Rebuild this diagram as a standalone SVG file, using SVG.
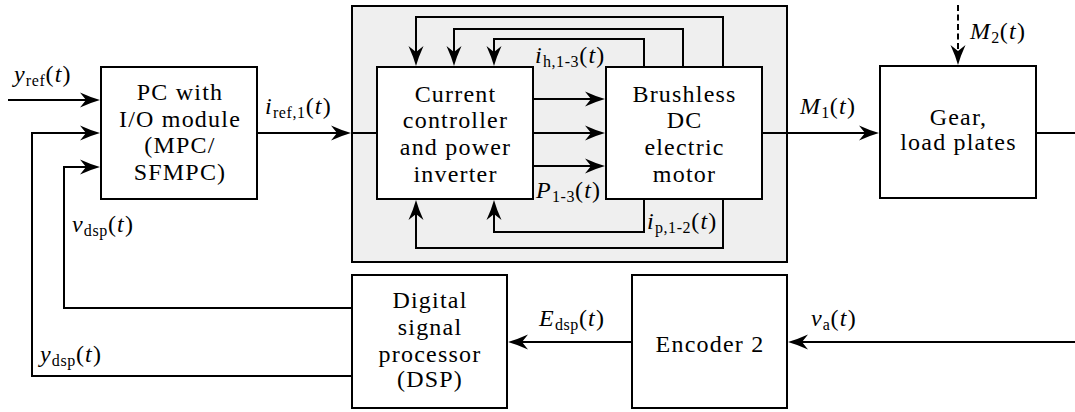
<svg xmlns="http://www.w3.org/2000/svg" width="1075" height="412" viewBox="0 0 1075 412" font-family="Liberation Serif, Times New Roman, serif">
<style>
.box{fill:#fff;stroke:#000;stroke-width:2}
.ln{fill:none;stroke:#000;stroke-width:2}
.a{marker-end:url(#ah)}
.dash{stroke-dasharray:6 3.5}
text{font-size:24px;fill:#000;letter-spacing:1.2px}
.c{text-anchor:middle}
.i{font-style:italic}
.s{font-size:16px;letter-spacing:0.6px}
</style>
<defs>
<marker id="ah" viewBox="-17 -8 22 16" refX="0" refY="0" markerWidth="22" markerHeight="16" markerUnits="userSpaceOnUse" orient="auto">
<path d="M4,0 Q-5,-2.5 -16,-7.5 L-10,0 L-16,7.5 Q-5,2.5 4,0 Z" fill="#000"/>
</marker>
</defs>
<rect id="group-bg" x="352" y="6" width="435" height="256" fill="#efefef" stroke="#000" stroke-width="2"/>
<g id="connectors">
<path class="ln a" d="M8,100 H96"/>
<path class="ln a" d="M352,376 H32 V133 H96"/>
<path class="ln a" d="M352,308 H64 V167 H96"/>
<path class="ln a" d="M258,133 H347"/>
<path class="ln" d="M352,133 H377"/>
<path class="ln a" d="M723,67 V17 H416 V62"/>
<path class="ln a" d="M683,67 V29 H454 V62"/>
<path class="ln a" d="M644,67 V39 H494 V62"/>
<path class="ln a" d="M644,199 V232 H494 V204"/>
<path class="ln a" d="M723,199 V248 H416 V204"/>
<path class="ln a" d="M533,99 H601"/>
<path class="ln a" d="M533,133 H601"/>
<path class="ln a" d="M533,166 H601"/>
<path class="ln a" d="M762,133 H875"/>
<path class="ln" d="M1036,133 H1075"/>
<path class="ln a dash" d="M958,5 V61"/>
<path class="ln a" d="M1075,342 H792"/>
<path class="ln a" d="M632,342 H512"/>
</g>
<g id="pc">
<rect class="box" x="101" y="67" width="156" height="132"/>
<text class="c" x="180" y="100">PC with</text>
<text class="c" x="180" y="126.5">I/O module</text>
<text class="c" x="180" y="153">(MPC/</text>
<text class="c" x="180" y="180">SFMPC)</text>
</g>
<g id="controller">
<rect class="box" x="377" y="67" width="156" height="132"/>
<text class="c" x="455.5" y="101.5">Current</text>
<text class="c" x="455.5" y="128">controller</text>
<text class="c" x="455.5" y="155">and power</text>
<text class="c" x="455.5" y="181.5">inverter</text>
</g>
<g id="motor">
<rect class="box" x="606" y="67" width="156" height="132"/>
<text class="c" x="684.5" y="101.5">Brushless</text>
<text class="c" x="684.5" y="128">DC</text>
<text class="c" x="684.5" y="155">electric</text>
<text class="c" x="684.5" y="181.5">motor</text>
</g>
<g id="gear">
<rect class="box" x="880" y="66" width="156" height="132"/>
<text class="c" x="958.5" y="125">Gear,</text>
<text class="c" x="958.5" y="150">load plates</text>
</g>
<g id="dsp">
<rect class="box" x="352" y="275" width="155" height="133"/>
<text class="c" x="430" y="308">Digital</text>
<text class="c" x="430" y="335">signal</text>
<text class="c" x="430" y="361.5">processor</text>
<text class="c" x="430" y="387">(DSP)</text>
</g>
<g id="encoder">
<rect class="box" x="632" y="275" width="155" height="133"/>
<text class="c" x="710" y="352">Encoder 2</text>
</g>
<g id="labels">
<text x="14" y="82"><tspan class="i">y</tspan><tspan class="s" dy="4">ref</tspan><tspan dy="-4">(</tspan><tspan class="i">t</tspan>)</text>
<text x="265" y="114"><tspan class="i">i</tspan><tspan class="s" dy="4">ref,1</tspan><tspan dy="-4">(</tspan><tspan class="i">t</tspan>)</text>
<text x="72" y="232"><tspan class="i">v</tspan><tspan class="s" dy="4">dsp</tspan><tspan dy="-4">(</tspan><tspan class="i">t</tspan>)</text>
<text x="40" y="362"><tspan class="i">y</tspan><tspan class="s" dy="4">dsp</tspan><tspan dy="-4">(</tspan><tspan class="i">t</tspan>)</text>
<text x="535" y="63"><tspan class="i">i</tspan><tspan class="s" dy="4">h,1-3</tspan><tspan dy="-4">(</tspan><tspan class="i">t</tspan>)</text>
<text x="536" y="198"><tspan class="i">P</tspan><tspan class="s" dy="4">1-3</tspan><tspan dy="-4">(</tspan><tspan class="i">t</tspan>)</text>
<text x="647" y="229"><tspan class="i">i</tspan><tspan class="s" dy="4">p,1-2</tspan><tspan dy="-4">(</tspan><tspan class="i">t</tspan>)</text>
<text x="800" y="114"><tspan class="i">M</tspan><tspan class="s" dy="4">1</tspan><tspan dy="-4">(</tspan><tspan class="i">t</tspan>)</text>
<text x="970" y="39"><tspan class="i">M</tspan><tspan class="s" dy="4">2</tspan><tspan dy="-4">(</tspan><tspan class="i">t</tspan>)</text>
<text x="539" y="326"><tspan class="i">E</tspan><tspan class="s" dy="4">dsp</tspan><tspan dy="-4">(</tspan><tspan class="i">t</tspan>)</text>
<text x="811" y="326"><tspan class="i">v</tspan><tspan class="s" dy="4">a</tspan><tspan dy="-4">(</tspan><tspan class="i">t</tspan>)</text>
</g>
</svg>
